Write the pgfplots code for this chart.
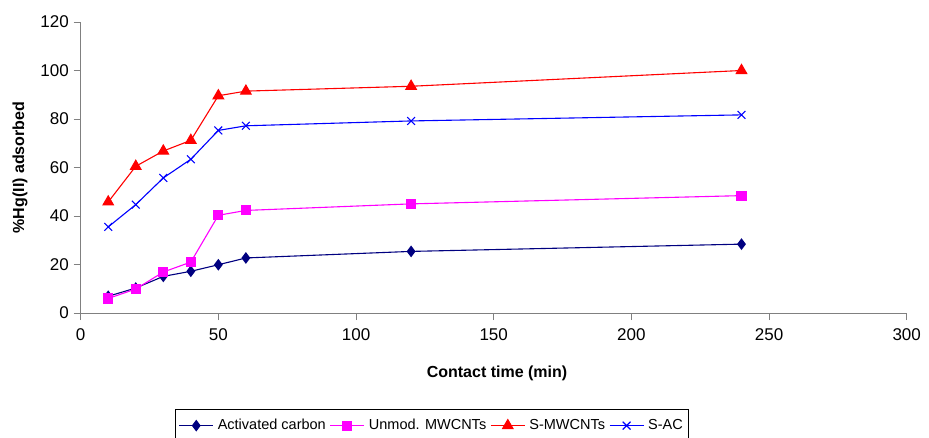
\documentclass[border=0pt]{standalone}
\usepackage{pgfplots}
\pgfplotsset{compat=1.18}
\usepackage{fontspec}
\setmainfont{Liberation Sans}
\definecolor{navyc}{RGB}{0,0,128}
\definecolor{magc}{RGB}{255,0,255}
\definecolor{redc}{RGB}{255,0,0}
\definecolor{bluec}{RGB}{0,0,255}
\begin{document}
\fontsize{14pt}{16pt}\selectfont
\begin{tikzpicture}
\useasboundingbox (-80.7pt,-124pt) rectangle (848.3pt,313pt);
\begin{axis}[
  at={(0,0)}, anchor=south west,
  scale only axis, width=826pt, height=291pt,
  xmin=0, xmax=300, ymin=0, ymax=120,
  xtick={0,50,...,300}, ytick={0,20,...,120},
  axis x line*=bottom, axis y line*=left,
  axis line style={color=gray, line width=0.9pt},
  tick style={color=gray, line width=0.9pt},
  tick align=outside, major tick length=7pt,
  tick label style={font=\fontsize{17pt}{19pt}\selectfont},
  xticklabel style={yshift=-4pt},
  /pgf/number format/assume math mode=true,
  xlabel={\bfseries Contact time (min)},
  ylabel={\bfseries \%Hg(II) adsorbed},
  label style={font=\fontsize{16pt}{18pt}\selectfont},
  xlabel style={at={(axis description cs:0.504,-0.206)}, anchor=center},
  ylabel style={at={(axis description cs:-0.0735,0.5)}, anchor=center},
  legend style={at={(axis description cs:0.425,-0.33)}, anchor=north,
    draw=black, line width=0.6pt, font=\fontsize{14.5pt}{16pt}\selectfont,
    inner xsep=3pt, inner ysep=8pt, column sep=2pt},
  legend columns=4,
  legend image code/.code={\draw[mark repeat=2,mark phase=2] plot coordinates {(0pt,0pt)(17pt,0pt)(34pt,0pt)};},
  every axis plot/.append style={line width=1.1pt},
  clip=false,
]
\addplot[color=navyc, mark=diamond*, mark size=5pt, mark options={fill=navyc}] coordinates {
 (10,6.9) (20,10.3) (30,15.1) (40,17.2) (50,19.9) (60,22.7) (120,25.4) (240,28.4)};
\addlegendentry{Activated carbon}
\addplot[color=magc, mark=square*, mark size=4.5pt, mark options={fill=magc}] coordinates {
 (10,6.0) (20,9.9) (30,16.9) (40,21.0) (50,40.3) (60,42.3) (120,45.0) (240,48.4)};
\addlegendentry{Unmod. MWCNTs}
\addplot[color=redc, mark=triangle*, mark size=6pt, mark options={fill=redc}] coordinates {
 (10,45.8) (20,60.5) (30,66.8) (40,71.2) (50,89.6) (60,91.5) (120,93.5) (240,100.0)};
\addlegendentry{S-MWCNTs}
\addplot[color=bluec, mark=x, mark size=5.5pt] coordinates {
 (10,35.5) (20,44.7) (30,55.7) (40,63.4) (50,75.3) (60,77.2) (120,79.2) (240,81.7)};
\addlegendentry{S-AC}
\end{axis}
\end{tikzpicture}
\end{document}
